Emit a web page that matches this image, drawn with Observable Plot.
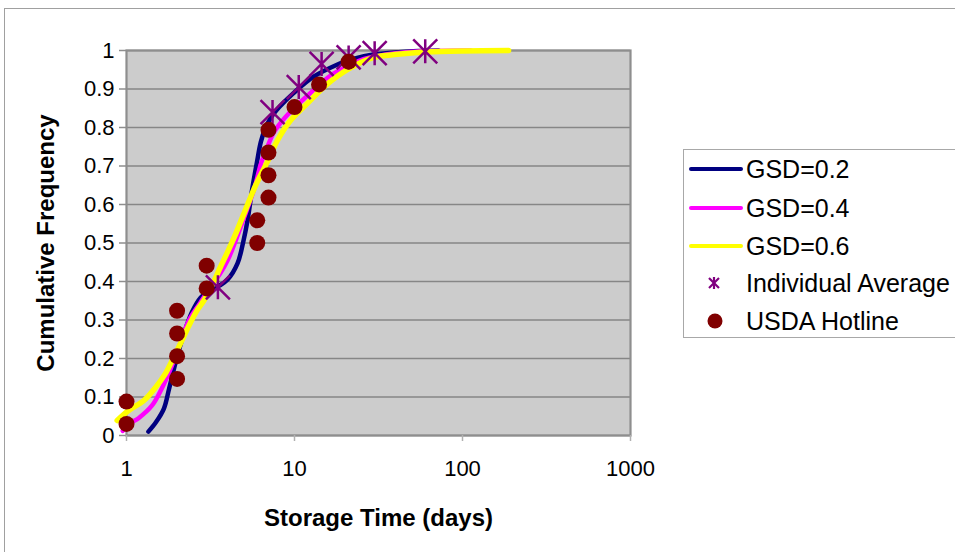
<!DOCTYPE html>
<html>
<head>
<meta charset="utf-8">
<script src="https://cdn.jsdelivr.net/npm/d3@7"></script>
<script src="https://cdn.jsdelivr.net/npm/@observablehq/plot@0.6"></script>
<style>
  html, body { margin: 0; padding: 0; background: #fff; }
  #wrap { position: relative; width: 955px; height: 552px; overflow: hidden; font-family: "Liberation Sans", Arial, sans-serif; }
  #outer { position: absolute; left: 4px; top: 8px; width: 1100px; height: 700px; border-left: 1.5px solid #a0a0a0; border-top: 1.5px solid #a0a0a0; }
  #chart { position: absolute; left: 0; top: 0; }
  #legend { position: absolute; left: 683px; top: 149px; width: 320px; height: 187px; border: 1.5px solid #a8a8a8; background: #fff; }
  .row { position: absolute; left: 0; height: 30px; display: flex; align-items: center; font-size: 25px; color: #000; white-space: nowrap; }
  .row svg { display: block; }
</style>
</head>
<body>
<div id="wrap">
  <div id="outer"></div>
  <div id="chart"></div>
  <div id="legend"></div>
</div>
<script>
// ---- data ----
const xTicks = [1, 10, 100, 1000];
const yTicks = [0, 0.1, 0.2, 0.3, 0.4, 0.5, 0.6, 0.7, 0.8, 0.9, 1];

const gsd02X = [1.35, 1.5, 1.67, 1.79, 1.96, 2.2, 2.45, 2.76, 3.2, 3.6, 4.0, 4.58, 4.97, 5.25, 5.6, 6.0, 6.3, 6.7, 7.3, 8.2, 9.9, 13, 17.9, 21.5, 30, 51, 72];
const gsd02Y = [0.01, 0.035, 0.07, 0.12, 0.19, 0.265, 0.32, 0.358, 0.38, 0.39, 0.405, 0.447, 0.506, 0.558, 0.64, 0.714, 0.762, 0.798, 0.828, 0.855, 0.89, 0.932, 0.963, 0.976, 0.99, 0.998, 1.0];

const gsd04X = [0.95, 1.03, 1.18, 1.42, 1.63, 1.83, 2.05, 2.35, 2.75, 3.16, 3.6, 4.0, 4.5, 5.0, 5.4, 5.8, 6.3, 6.9, 7.6, 9.5, 11.9, 16.4, 20.6, 26, 35, 51, 112];
const gsd04Y = [0.012, 0.029, 0.045, 0.078, 0.124, 0.173, 0.229, 0.299, 0.345, 0.385, 0.42, 0.455, 0.51, 0.565, 0.605, 0.645, 0.705, 0.75, 0.79, 0.842, 0.882, 0.935, 0.958, 0.978, 0.99, 0.997, 1.0];

const gsd06X = [0.88, 1.03, 1.27, 1.49, 1.7, 1.87, 2.1, 2.35, 2.63, 2.9, 3.31, 3.6, 3.98, 4.4, 4.85, 5.4, 5.9, 6.88, 7.88, 9.46, 11.9, 15.6, 21, 29.7, 41, 60, 100, 188];
const gsd06Y = [0.039, 0.065, 0.091, 0.125, 0.16, 0.195, 0.24, 0.285, 0.325, 0.352, 0.40, 0.435, 0.475, 0.517, 0.562, 0.612, 0.652, 0.71, 0.765, 0.818, 0.862, 0.912, 0.952, 0.982, 0.99, 0.996, 0.999, 1.0];

const individualX = [3.5, 7.4, 10.6, 14.5, 21, 30, 60];
const individualY = [0.385, 0.84, 0.905, 0.965, 0.982, 0.993, 0.998];

const usdaX = [1, 1, 2, 2, 2, 2, 3, 3, 6, 6, 7, 7, 7, 7, 10, 14, 21];
const usdaY = [0.03, 0.088, 0.147, 0.206, 0.265, 0.324, 0.382, 0.441, 0.5, 0.559, 0.618, 0.676, 0.735, 0.794, 0.853, 0.912, 0.971];

const seriesNames = ["GSD=0.2", "GSD=0.4", "GSD=0.6", "Individual Average", "USDA Hotline"];

// ---- build tables ----
const toRows = (xs, ys) => xs.map((x, i) => ({x, y: ys[i]}));
const gsd02 = toRows(gsd02X, gsd02Y);
const gsd04 = toRows(gsd04X, gsd04Y);
const gsd06 = toRows(gsd06X, gsd06Y);
const individual = toRows(individualX, individualY);
const usda = toRows(usdaX, usdaY);

// Excel-like star marker: vertical bar + X
const star = {
  draw(context, size) {
    const r = Math.sqrt(size / Math.PI);
    context.moveTo(0, -r); context.lineTo(0, r);
    context.moveTo(-r, -r); context.lineTo(r, r);
    context.moveTo(-r, r); context.lineTo(r, -r);
  }
};

const chart = Plot.plot({
  width: 955,
  height: 552,
  marginLeft: 126,
  marginRight: 325,
  marginTop: 50,
  marginBottom: 117,
  x: {type: "log", domain: [1, 1000]},
  y: {domain: [0, 1]},
  style: {fontFamily: "'Liberation Sans', Arial, sans-serif", fontSize: "22px", color: "#000", background: "transparent", overflow: "visible"},
  marks: [
    Plot.frame({fill: "#cccccc"}),
    Plot.ruleY(yTicks, {stroke: "#868686", strokeWidth: 1.6}),
    Plot.frame({stroke: "#8e8e8e", strokeWidth: 2.2}),
    Plot.axisY(yTicks, {tickSize: 7, tickPadding: 5, tickFormat: d => String(d), stroke: "#8e8e8e", strokeWidth: 1.5, label: null, fontSize: 22}),
    Plot.axisX(xTicks, {tickSize: 6, tickPadding: 19, tickFormat: d => String(d), stroke: "#b0b0b0", strokeWidth: 1.5, label: null, fontSize: 22}),
    Plot.line(gsd02, {x: "x", y: "y", stroke: "#000080", strokeWidth: 4.5, curve: "catmull-rom"}),
    Plot.line(gsd04, {x: "x", y: "y", stroke: "#ff00ff", strokeWidth: 4.5, curve: "catmull-rom"}),
    Plot.line(gsd06, {x: "x", y: "y", stroke: "#ffff00", strokeWidth: 5.5, curve: "catmull-rom"}),
    Plot.dot(individual, {x: "x", y: "y", symbol: star, r: 12, stroke: "#800080", strokeWidth: 2.5, fill: "none"}),
    Plot.dot(usda, {x: "x", y: "y", r: 8, fill: "#800000", stroke: "none"}),
    Plot.text(["Storage Time (days)"], {frameAnchor: "bottom", dy: 83, text: d => d, fontWeight: "bold", fontSize: 24, fill: "#000", textAnchor: "middle", lineAnchor: "middle"}),
    Plot.text(["Cumulative Frequency"], {frameAnchor: "left", dx: -80, rotate: -90, text: d => d, fontWeight: "bold", fontSize: 24, fill: "#000", textAnchor: "middle", lineAnchor: "middle"})
  ]
});
document.getElementById("chart").appendChild(chart);

// ---- legend ----
const legend = document.getElementById("legend");
const colors = ["#000080", "#ff00ff", "#ffff00"];
const rowCenters = [168, 207, 245, 282, 320];
seriesNames.forEach((name, i) => {
  const row = document.createElement("div");
  row.className = "row";
  row.style.top = (rowCenters[i] - 149 - 15) + "px";
  let sw;
  if (i < 3) {
    sw = `<svg width="62" height="30"><line x1="7" y1="15" x2="57" y2="15" stroke="${colors[i]}" stroke-width="4" stroke-linecap="round"/></svg>`;
  } else if (i === 3) {
    sw = `<svg width="62" height="30"><g stroke="#800080" stroke-width="2.2"><line x1="30" y1="9" x2="30" y2="21"/><line x1="25" y1="10" x2="35" y2="20"/><line x1="25" y1="20" x2="35" y2="10"/></g></svg>`;
  } else {
    sw = `<svg width="62" height="30"><circle cx="31" cy="15" r="7.5" fill="#800000"/></svg>`;
  }
  row.innerHTML = sw + `<span>${name}</span>`;
  legend.appendChild(row);
});
</script>
</body>
</html>
